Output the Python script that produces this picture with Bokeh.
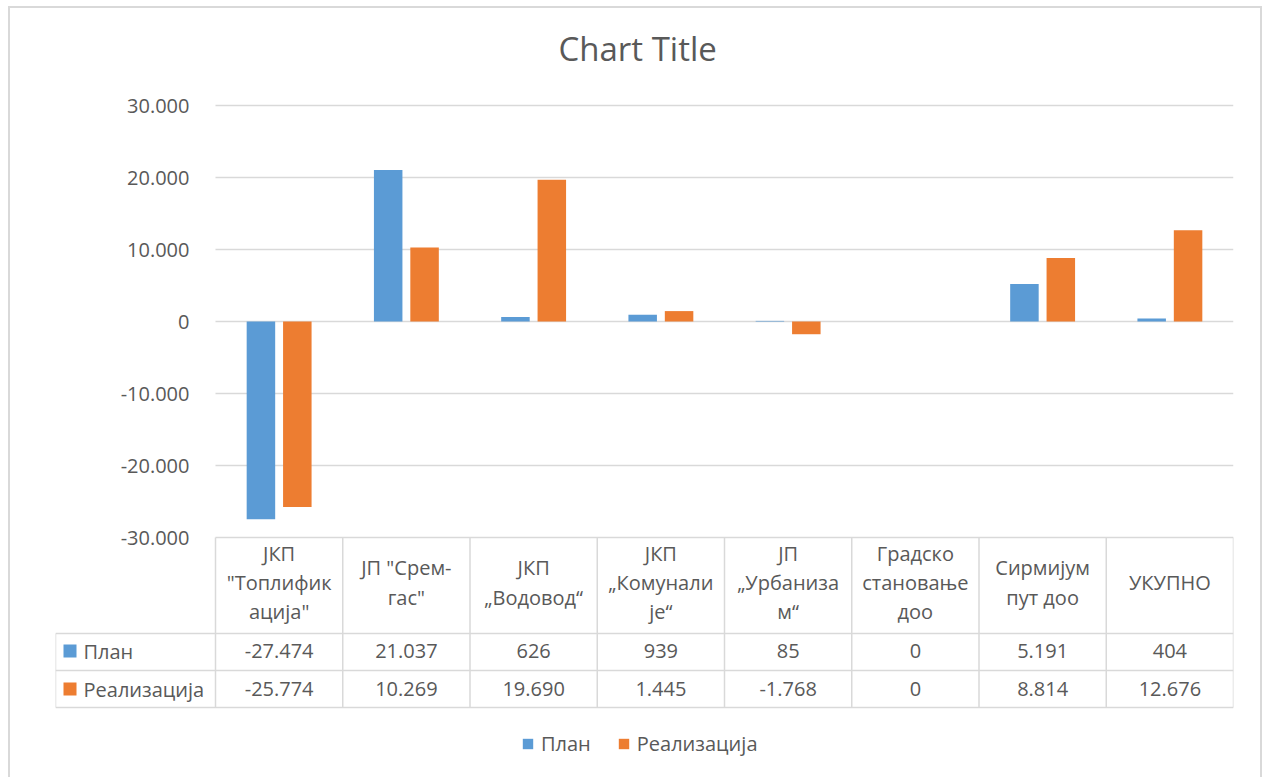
import numpy as np
from bokeh.plotting import figure
from bokeh.models import (Range1d, LinearAxis, FixedTicker, Grid, Legend, LegendItem)
from bokeh.core.properties import value
from bokeh.embed import file_html
from bokeh.resources import INLINE

# ---------------- data ----------------
title_text = "Chart Title"
categories = [
    "ЈКП\n\"Топлифик\nација\"",
    "ЈП \"Срем-\nгас\"",
    "ЈКП\n„Водовод“",
    "ЈКП\n„Комунали\nје“",
    "ЈП\n„Урбаниза\nм“",
    "Градско\nстановање\nдоо",
    "Сирмијум\nпут доо",
    "УКУПНО",
]
series_names = ["План", "Реализација"]
plan = [-27474, 21037, 626, 939, 85, 0, 5191, 404]
realizacija = [-25774, 10269, 19690, 1445, -1768, 0, 8814, 12676]
y_ticks = [-30000, -20000, -10000, 0, 10000, 20000, 30000]
colors = ["#5B9BD5", "#ED7D31"]

def fmt(v):
    return f"{v:,}".replace(",", ".")

# ---------------- layout constants (pixels) ----------------
FONT = "Open Sans"
TXT = "#595959"
LINE = "#D9D9D9"
W, H = 1263, 777
B_L, B_R, B_T = 55, 30, 80
FRAME_W = W - B_L - B_R
FRAME_H = H - B_T
LABEL_W = 160
n = len(categories)
COL_W = (FRAME_W - LABEL_W) / n
X0 = -LABEL_W / COL_W
LEG_H = 70          # space below the data table (legend)
ROW = 37            # data-table row height
HEAD = 96           # data-table header height
TOP_PAD = 25        # space above the top gridline inside the frame
TABLE_TOP = LEG_H + 2 * ROW + HEAD
PLOT_PX = FRAME_H - TABLE_TOP - TOP_PAD
y_span = y_ticks[-1] - y_ticks[0]
upp = y_span / PLOT_PX
y_start = y_ticks[0] - TABLE_TOP * upp
y_end = y_ticks[-1] + TOP_PAD * upp

p = figure(width=W, height=H, output_backend="svg", toolbar_location=None,
           x_range=Range1d(X0, n), y_range=Range1d(y_start, y_end),
           x_axis_location=None, y_axis_location=None,
           min_border_left=B_L, min_border_right=B_R, min_border_top=B_T,
           min_border_bottom=0, outline_line_color=None,
           background_fill_alpha=0, border_fill_alpha=0)
p.extra_y_ranges = {"tbl": Range1d(0, FRAME_H)}
p.grid.visible = False

# outer chart-area border (light grey, open at the bottom like the cropped original)
g = f"linear-gradient({LINE},{LINE})"
p.styles = {
    "background-color": "white",
    "background-image": f"{g}, {g}, {g}",
    "background-size": f"2px {H}px, 2px {H}px, {W - 9}px 2px",
    "background-position": f"8px 6px, {W - 3}px 6px, 8px 6px",
    "background-repeat": "no-repeat",
}

# title
p.title.text = title_text
p.title.align = "left"
p.title.offset = 503
p.title.text_font = FONT
p.title.text_font_size = "33px"
p.title.text_font_style = "normal"
p.title.text_color = TXT
try:
    p.title.standoff = 20
except Exception:
    pass

# grid
gticker = FixedTicker(ticks=y_ticks)
if "cross_bounds" in Grid.properties():
    grid = Grid(dimension=1, ticker=gticker, grid_line_color=LINE, grid_line_width=1.5,
                cross_bounds=(0, n))
    p.add_layout(grid)
else:
    p.segment(x0=[0] * len(y_ticks), x1=[n] * len(y_ticks), y0=y_ticks, y1=y_ticks,
              line_color=LINE, line_width=1.5)

# y axis
yaxis = LinearAxis(ticker=gticker, fixed_location=0,
                   major_label_overrides={t: fmt(t) for t in y_ticks})
yaxis.axis_line_color = None
yaxis.major_tick_line_color = None
yaxis.minor_tick_line_color = None
yaxis.major_label_standoff = 20
yaxis.major_label_text_font = FONT
yaxis.major_label_text_font_size = "20px"
yaxis.major_label_text_color = TXT
p.add_layout(yaxis, "left")

# bars
xs = np.arange(n) + 0.5
OFF, BW = 0.143, 0.224
r_plan = p.vbar(x=xs - OFF, top=plan, bottom=0, width=BW, fill_color=colors[0], line_color=None)
r_real = p.vbar(x=xs + OFF, top=realizacija, bottom=0, width=BW, fill_color=colors[1], line_color=None)

# data table
h_y = [LEG_H, LEG_H + ROW, LEG_H + 2 * ROW]
p.segment(x0=[X0] * 3, x1=[n] * 3, y0=h_y, y1=h_y, line_color=LINE, line_width=1.5, y_range_name="tbl")
vx = list(range(n + 1))
p.segment(x0=vx, x1=vx, y0=[LEG_H] * len(vx), y1=[TABLE_TOP] * len(vx),
          line_color=LINE, line_width=1.5, y_range_name="tbl")
p.segment(x0=[X0], x1=[X0], y0=[LEG_H], y1=[LEG_H + 2 * ROW], line_color=LINE, line_width=1.5,
          y_range_name="tbl")

common = dict(text_font=value(FONT), text_font_size="20px", text_color=TXT, y_range_name="tbl")
p.text(x=xs, y=[LEG_H + 2 * ROW + HEAD / 2 + 3] * n, text=categories, text_align="center",
       text_baseline="middle", text_line_height=1.08, **common)
row_y = [LEG_H + ROW + ROW / 2 + 1, LEG_H + ROW / 2]
for vals, ry in zip([plan, realizacija], row_y):
    p.text(x=xs, y=[ry] * n, text=[fmt(v) for v in vals], text_align="center",
           text_baseline="middle", **common)
p.text(x=[X0 + 28 / COL_W] * 2, y=row_y, text=series_names, text_align="left",
       text_baseline="middle", **common)
p.scatter(x=[X0 + 14.5 / COL_W] * 2, y=row_y, marker="square", size=13,
          fill_color=colors, line_color=None, y_range_name="tbl")

# legend
legend = Legend(items=[LegendItem(label=series_names[0], renderers=[r_plan]),
                       LegendItem(label=series_names[1], renderers=[r_real])],
                location=(466, 20), orientation="horizontal",
                glyph_width=13, glyph_height=13, label_height=20, label_standoff=7, spacing=26,
                padding=3, margin=0, border_line_color=None, background_fill_alpha=0,
                label_text_font=FONT, label_text_font_size="20px", label_text_color=TXT)
p.add_layout(legend)

open("out.html", "w").write(file_html(p, INLINE))
